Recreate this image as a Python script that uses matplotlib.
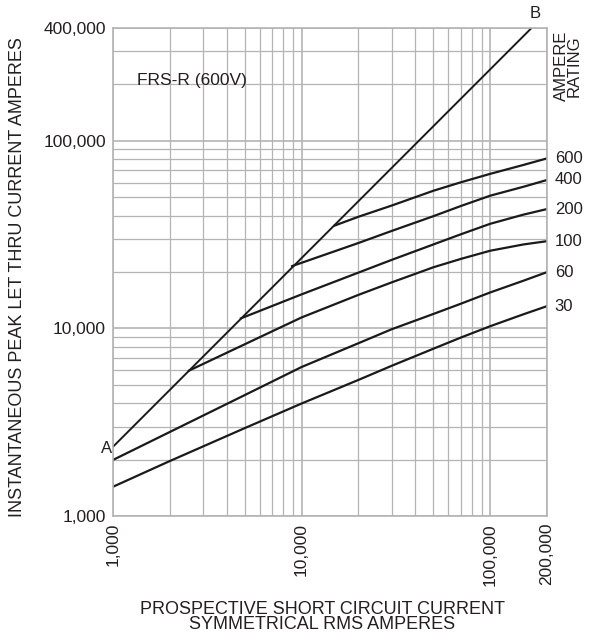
import matplotlib
matplotlib.use("Agg")
import matplotlib.pyplot as plt
from matplotlib.ticker import LogLocator, FixedLocator, NullFormatter

plt.rcParams['font.family'] = ['Liberation Sans', 'DejaVu Sans']

# Line A-B (peak current with no fuse)
ab_x = [1000, 165600]
ab_y = [2340, 400000]

ratings = ["600", "400", "200", "100", "60", "30"]

x_600 = [15000, 20000, 30000, 50000, 70000, 100000, 150000, 200000]
y_600 = [35400, 39400, 45200, 54250, 60200, 66750, 74450, 80700]

x_400 = [8900, 20000, 30000, 50000, 70000, 100000, 150000, 200000]
y_400 = [21500, 28550, 33100, 39700, 45000, 51050, 56950, 61900]

x_200 = [4765, 10000, 20000, 30000, 50000, 70000, 100000, 150000, 200000]
y_200 = [11320, 15200, 19850, 23200, 28060, 31800, 36150, 40450, 43320]

x_100 = [2530, 5000, 10000, 20000, 30000, 50000, 70000, 100000, 150000, 200000]
y_100 = [5960, 8240, 11450, 15100, 17600, 21200, 23500, 25970, 28050, 29200]

x_60 = [1000, 2000, 5000, 10000, 20000, 30000, 50000, 70000, 100000, 150000, 200000]
y_60 = [1990, 2805, 4415, 6230, 8340, 9900, 11950, 13560, 15560, 17970, 19970]

x_30 = [1000, 2000, 5000, 10000, 20000, 30000, 50000, 70000, 100000, 150000, 200000]
y_30 = [1432, 1963, 2943, 3980, 5315, 6320, 7800, 8950, 10280, 11900, 13150]

curves_x = [x_600, x_400, x_200, x_100, x_60, x_30]
curves_y = [y_600, y_400, y_200, y_100, y_60, y_30]

x_ticks = [1000, 10000, 100000, 200000]
x_ticklabels = ["1,000", "10,000", "100,000", "200,000"]
y_ticks = [1000, 10000, 100000, 400000]
y_ticklabels = ["1,000", "10,000", "100,000", "400,000"]

txt_c = '#231f20'
fig = plt.figure(figsize=(5.97, 6.38), dpi=100)
ax = fig.add_axes([113/597, 1-516/638, 434/597, 488/638])
ax.set_xscale('log')
ax.set_yscale('log')
ax.set_xlim(1000, 200000)
ax.set_ylim(1000, 400000)

grid_c = '#b4b4b4'
ax.xaxis.set_major_locator(FixedLocator(x_ticks))
ax.yaxis.set_major_locator(FixedLocator(y_ticks))
ax.xaxis.set_minor_locator(LogLocator(base=10, subs=range(2, 10)))
ax.yaxis.set_minor_locator(LogLocator(base=10, subs=range(2, 10)))
ax.xaxis.set_minor_formatter(NullFormatter())
ax.yaxis.set_minor_formatter(NullFormatter())
ax.set_xticklabels(x_ticklabels, rotation=90, fontsize=12.5)
ax.set_yticklabels(y_ticklabels, fontsize=12.5)
ax.tick_params(which='both', length=0, pad=5, colors=txt_c)
ax.grid(which='minor', color=grid_c, lw=0.9)
ax.grid(which='major', color=grid_c, lw=1.2)
for s in ax.spines.values():
    s.set_color(grid_c)
    s.set_linewidth(1.2)

ax.plot(ab_x, ab_y, color='#1a1a1a', lw=1.4, solid_capstyle='butt', clip_on=False)
for cx, cy, r in zip(curves_x, curves_y, ratings):
    ax.plot(cx, cy, color='#1a1a1a', lw=1.6)
    ax.annotate(r, (cx[-1], cy[-1]), xytext=(5.5, 0), textcoords='offset points',
                va='center', ha='left', fontsize=12, color=txt_c, annotation_clip=False)

ax.text(0.055, 0.893, "FRS-R (600V)", transform=ax.transAxes, fontsize=12.5,
        va='center', ha='left', color=txt_c)
ax.annotate("A", (ab_x[0], ab_y[0]), xytext=(-0.5, -1.5), textcoords='offset points',
            ha='right', va='center', fontsize=12, color=txt_c, annotation_clip=False)
ax.annotate("B", (ab_x[-1], ab_y[-1]), xytext=(2.5, 10.5), textcoords='offset points',
            ha='center', va='center', fontsize=12, color=txt_c, annotation_clip=False)
fig.text(568/597, 1-66/638, "AMPERE\nRATING", rotation=90, ha='center', va='center',
         fontsize=12, color=txt_c, linespacing=0.85)

fig.text(18/597, 1-277/638, "INSTANTANEOUS PEAK LET THRU CURRENT AMPERES", rotation=90,
         ha='center', va='center', fontsize=13, color=txt_c)
fig.text(322/597, 1-617/638, "PROSPECTIVE SHORT CIRCUIT CURRENT\nSYMMETRICAL RMS AMPERES",
         ha='center', va='center', fontsize=13, color=txt_c, linespacing=0.92)

fig.savefig("out.png", dpi=100)
